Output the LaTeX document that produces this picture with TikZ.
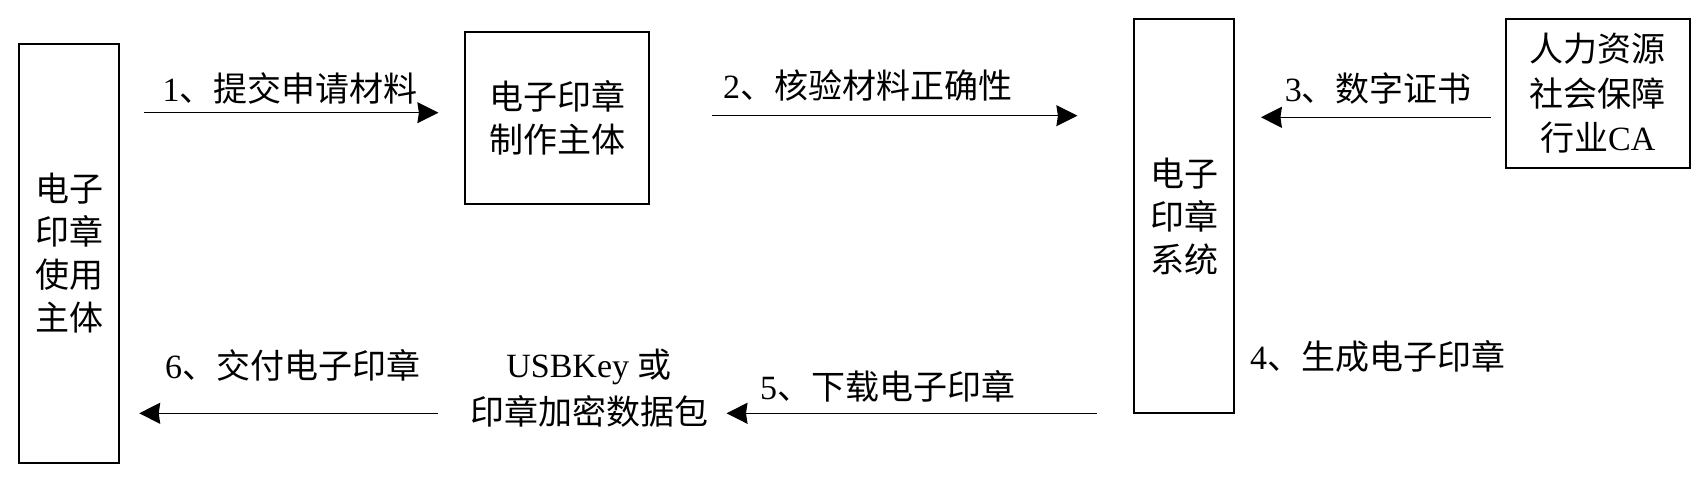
\documentclass[tikz,border=0pt]{standalone}
\usepackage{fontspec}
\setmainfont{Liberation Serif}
\newfontfamily\cjk{Noto Sans CJK SC}
\newcommand\zh[1]{{\cjk #1}}
\usetikzlibrary{arrows.meta}
\begin{document}
\begin{tikzpicture}[x=1pt,y=-1pt,
  box/.style={draw, line width=1.8pt, inner sep=0pt, align=center, font=\fontsize{34}{43}\selectfont\cjk},
  lbl/.style={inner sep=0pt, font=\fontsize{34}{43}\selectfont},
  arr/.style={line width=1.4pt, -{Stealth[length=21pt,width=21pt,inset=1.5pt]}}]
\useasboundingbox (0,0) rectangle (1707,481);
% boxes
\node[box, minimum width=100pt, minimum height=418.4pt] (user) at (69.3,253.5) {电子\\印章\\使用\\主体};
\node[box, minimum width=184pt, minimum height=172.3pt] (maker) at (557,117.8) {电子印章\\制作主体};
\node[box, minimum width=100pt, minimum height=394.3pt] (sys) at (1184,216.2) {电子\\印章\\系统};
\node[box, minimum width=183.7pt, minimum height=148.7pt, font=\fontsize{34}{44.5}\selectfont] (ca) at (1597.8,93.3) {\zh{人力资源}\\\zh{社会保障}\\\zh{行业}CA};
% labels
\node[lbl] (l1) at (290,88.3) {1\zh{、提交申请材料}};
\node[lbl] (l2) at (867.5,85) {2\zh{、核验材料正确性}};
\node[lbl] (l3) at (1378.3,88.3) {3\zh{、数字证书}};
\node[lbl] (l4) at (1377.5,356.7) {4\zh{、生成电子印章}};
\node[lbl] (l5) at (887.5,386.7) {5\zh{、下载电子印章}};
\node[lbl] (l6) at (292.5,365) {6\zh{、交付电子印章}};
\node[lbl, align=center, font=\fontsize{34}{46.7}\selectfont] (usb) at (589,388.3) {USBKey \zh{或}\\\zh{印章加密数据包}};
% arrow rows
\coordinate (ya1) at (0,112.7);
\coordinate (ya2) at (0,115.7);
\coordinate (ya3) at (0,117.3);
\coordinate (ya5) at (0,413.3);
% connectors
\draw[arr, shorten <=23.4pt, shorten >=25.7pt] (user.east |- ya1) -- (maker.west |- ya1);
\draw[arr, shorten <=61.7pt, shorten >=55.7pt] (maker.east |- ya2) -- (sys.west |- ya2);
\draw[arr, shorten <=14.3pt, shorten >=26pt] (ca.west |- ya3) -- (sys.east |- ya3);
\draw[arr, shorten <=36.3pt, shorten >=18.3pt] (sys.west |- ya5) -- (usb.east |- ya5);
\draw[arr, shorten <=31.7pt, shorten >=19pt] (usb.west |- ya5) -- (user.east |- ya5);
\end{tikzpicture}
\end{document}
